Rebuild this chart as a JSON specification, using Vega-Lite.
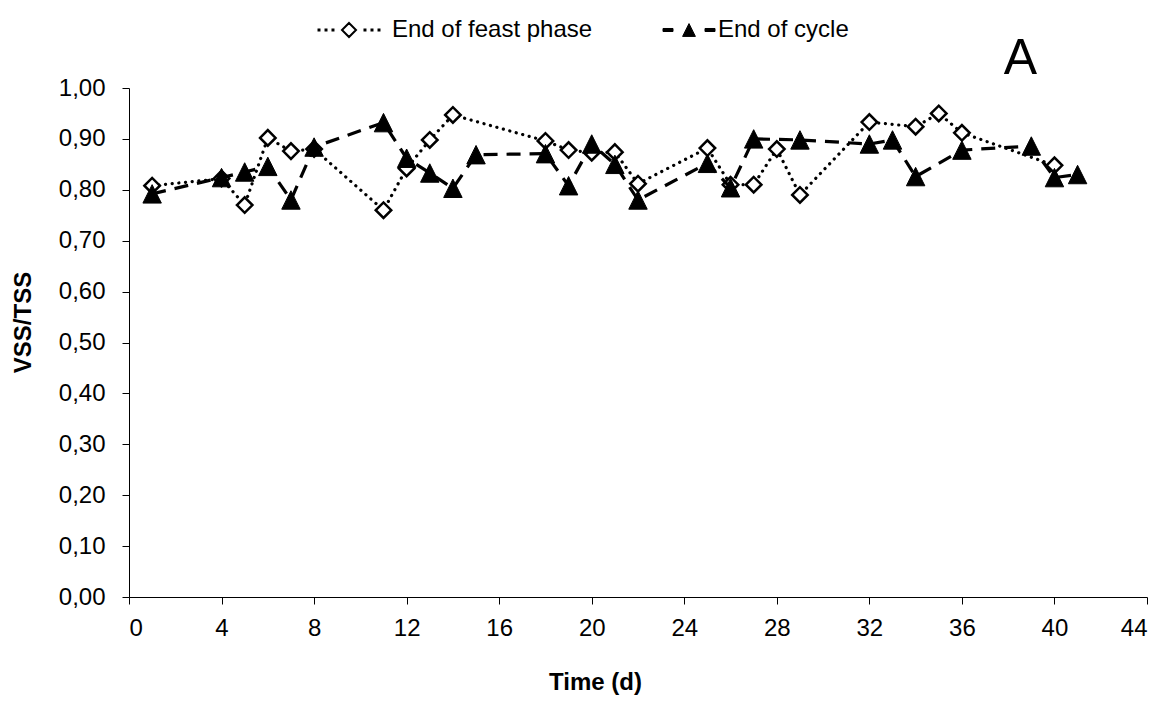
{
  "$schema": "https://vega.github.io/schema/vega-lite/v6.json",
  "width": 1018,
  "height": 509,
  "autosize": {"type": "none"},
  "padding": {"left": 129, "top": 88, "right": 20, "bottom": 106},
  "background": "white",
  "title": {"text": "A", "anchor": "end", "frame": "group", "dx": -110, "dy": 138, "offset": 11, "baseline": "alphabetic", "fontSize": 50, "fontWeight": "normal", "font": "Liberation Sans", "color": "black"},
  "data": {"values": [
    {"t": 1, "v": 0.808, "series": "End of feast phase"},
    {"t": 4, "v": 0.822, "series": "End of feast phase"},
    {"t": 5, "v": 0.770, "series": "End of feast phase"},
    {"t": 6, "v": 0.902, "series": "End of feast phase"},
    {"t": 7, "v": 0.876, "series": "End of feast phase"},
    {"t": 8, "v": 0.880, "series": "End of feast phase"},
    {"t": 11, "v": 0.760, "series": "End of feast phase"},
    {"t": 12, "v": 0.842, "series": "End of feast phase"},
    {"t": 13, "v": 0.898, "series": "End of feast phase"},
    {"t": 14, "v": 0.947, "series": "End of feast phase"},
    {"t": 18, "v": 0.896, "series": "End of feast phase"},
    {"t": 19, "v": 0.878, "series": "End of feast phase"},
    {"t": 20, "v": 0.873, "series": "End of feast phase"},
    {"t": 21, "v": 0.874, "series": "End of feast phase"},
    {"t": 22, "v": 0.812, "series": "End of feast phase"},
    {"t": 25, "v": 0.882, "series": "End of feast phase"},
    {"t": 26, "v": 0.810, "series": "End of feast phase"},
    {"t": 27, "v": 0.810, "series": "End of feast phase"},
    {"t": 28, "v": 0.880, "series": "End of feast phase"},
    {"t": 29, "v": 0.790, "series": "End of feast phase"},
    {"t": 32, "v": 0.933, "series": "End of feast phase"},
    {"t": 34, "v": 0.924, "series": "End of feast phase"},
    {"t": 35, "v": 0.950, "series": "End of feast phase"},
    {"t": 36, "v": 0.912, "series": "End of feast phase"},
    {"t": 40, "v": 0.848, "series": "End of feast phase"},
    {"t": 1, "v": 0.792, "series": "End of cycle"},
    {"t": 4, "v": 0.824, "series": "End of cycle"},
    {"t": 5, "v": 0.835, "series": "End of cycle"},
    {"t": 6, "v": 0.846, "series": "End of cycle"},
    {"t": 7, "v": 0.780, "series": "End of cycle"},
    {"t": 8, "v": 0.884, "series": "End of cycle"},
    {"t": 11, "v": 0.932, "series": "End of cycle"},
    {"t": 12, "v": 0.862, "series": "End of cycle"},
    {"t": 13, "v": 0.833, "series": "End of cycle"},
    {"t": 14, "v": 0.803, "series": "End of cycle"},
    {"t": 15, "v": 0.869, "series": "End of cycle"},
    {"t": 18, "v": 0.871, "series": "End of cycle"},
    {"t": 19, "v": 0.808, "series": "End of cycle"},
    {"t": 20, "v": 0.890, "series": "End of cycle"},
    {"t": 21, "v": 0.850, "series": "End of cycle"},
    {"t": 22, "v": 0.780, "series": "End of cycle"},
    {"t": 25, "v": 0.852, "series": "End of cycle"},
    {"t": 26, "v": 0.804, "series": "End of cycle"},
    {"t": 27, "v": 0.900, "series": "End of cycle"},
    {"t": 29, "v": 0.898, "series": "End of cycle"},
    {"t": 32, "v": 0.890, "series": "End of cycle"},
    {"t": 33, "v": 0.898, "series": "End of cycle"},
    {"t": 34, "v": 0.826, "series": "End of cycle"},
    {"t": 36, "v": 0.878, "series": "End of cycle"},
    {"t": 39, "v": 0.886, "series": "End of cycle"},
    {"t": 40, "v": 0.824, "series": "End of cycle"},
    {"t": 41, "v": 0.830, "series": "End of cycle"}
  ]},
  "encoding": {
    "x": {"field": "t", "type": "quantitative", "scale": {"domain": [0, 44], "nice": false},
      "axis": {"title": "Time (d)", "values": [0,4,8,12,16,20,24,28,32,36,40,44], "titleX": 466, "titleY": 85, "titleBaseline": "middle", "labelPadding": 12}},
    "y": {"field": "v", "type": "quantitative", "scale": {"domain": [0, 1], "nice": false},
      "axis": {"title": "VSS/TSS", "values": [0,0.1,0.2,0.3,0.4,0.5,0.6,0.7,0.8,0.9,1], "labelExpr": "replace(format(datum.value, '.2f'), '.', ',')", "titleX": -106, "titleY": 234, "titleAngle": -90, "titleAlign": "center", "titleBaseline": "middle", "labelPadding": 17}}
  },
  "layer": [
    {
      "transform": [{"filter": "datum.series === 'End of feast phase'"}],
      "mark": {"type": "line", "color": "black", "strokeWidth": 3.2, "strokeDash": [0.1, 6.6], "strokeCap": "round"}
    },
    {
      "transform": [{"filter": "datum.series === 'End of feast phase'"}],
      "mark": {"type": "point", "filled": true, "fill": "white", "stroke": "black", "strokeWidth": 2.5, "size": 240, "shape": "diamond"},
      "encoding": {
        "opacity": {"field": "series", "type": "nominal",
          "scale": {"type": "ordinal", "domain": ["End of feast phase", "End of cycle"], "range": [1, 1]},
          "legend": {
            "orient": "none", "direction": "horizontal", "title": null,
            "legendX": 187, "legendY": -91, "padding": 21,
            "symbolSize": 4096, "labelFontSize": 24, "labelFont": "Liberation Sans", "labelColor": "black", "labelLimit": 400,
            "columnPadding": 68, "labelOffset": 31,
            "encoding": {"symbols": {
              "shape": {"value": {"expr": "datum.value === 'End of feast phase' ? 'M-0.953,-0.016h0.031v0.031h-0.031ZM-0.734,-0.016h0.031v0.031h-0.031ZM-0.516,-0.016h0.031v0.031h-0.031ZM0.484,-0.016h0.031v0.031h-0.031ZM0.703,-0.016h0.031v0.031h-0.031ZM0.922,-0.016h0.031v0.031h-0.031ZM0,-0.219L0.219,0L0,0.219L-0.219,0Z' : 'M-0.375,-0.047h0.3125v0.094h-0.3125ZM0.9375,-0.047h0.3125v0.094h-0.3125ZM0.4375,-0.2L0.6375,0.2L0.2375,0.2Z'"}},
              "fill": {"value": {"expr": "datum.value === 'End of feast phase' ? 'white' : 'black'"}},
              "stroke": {"value": "black"},
              "strokeWidth": {"value": {"expr": "datum.value === 'End of feast phase' ? 2 : 1"}},
              "size": {"value": 4096}
            }}
          }}
      }
    },
    {
      "transform": [{"filter": "datum.series === 'End of cycle'"}],
      "mark": {"type": "line", "color": "black", "strokeWidth": 3.2, "strokeDash": [14, 9]}
    },
    {
      "transform": [{"filter": "datum.series === 'End of cycle'"}],
      "mark": {"type": "point", "filled": true, "fill": "black", "stroke": "black", "strokeWidth": 1, "size": 340, "opacity": 1, "shape": "M0,-1L1,1L-1,1Z"}
    }
  ],
  "config": {
    "view": {"stroke": null},
    "font": "Liberation Sans",
    "axis": {"grid": false, "domainColor": "black", "tickColor": "black", "tickSize": 7, "domainWidth": 1, "tickWidth": 1,
      "labelFontSize": 24, "labelFont": "Liberation Sans", "labelColor": "black",
      "titleFontSize": 24, "titleFont": "Liberation Sans", "titleFontWeight": "bold", "titleColor": "black"}
  }
}
